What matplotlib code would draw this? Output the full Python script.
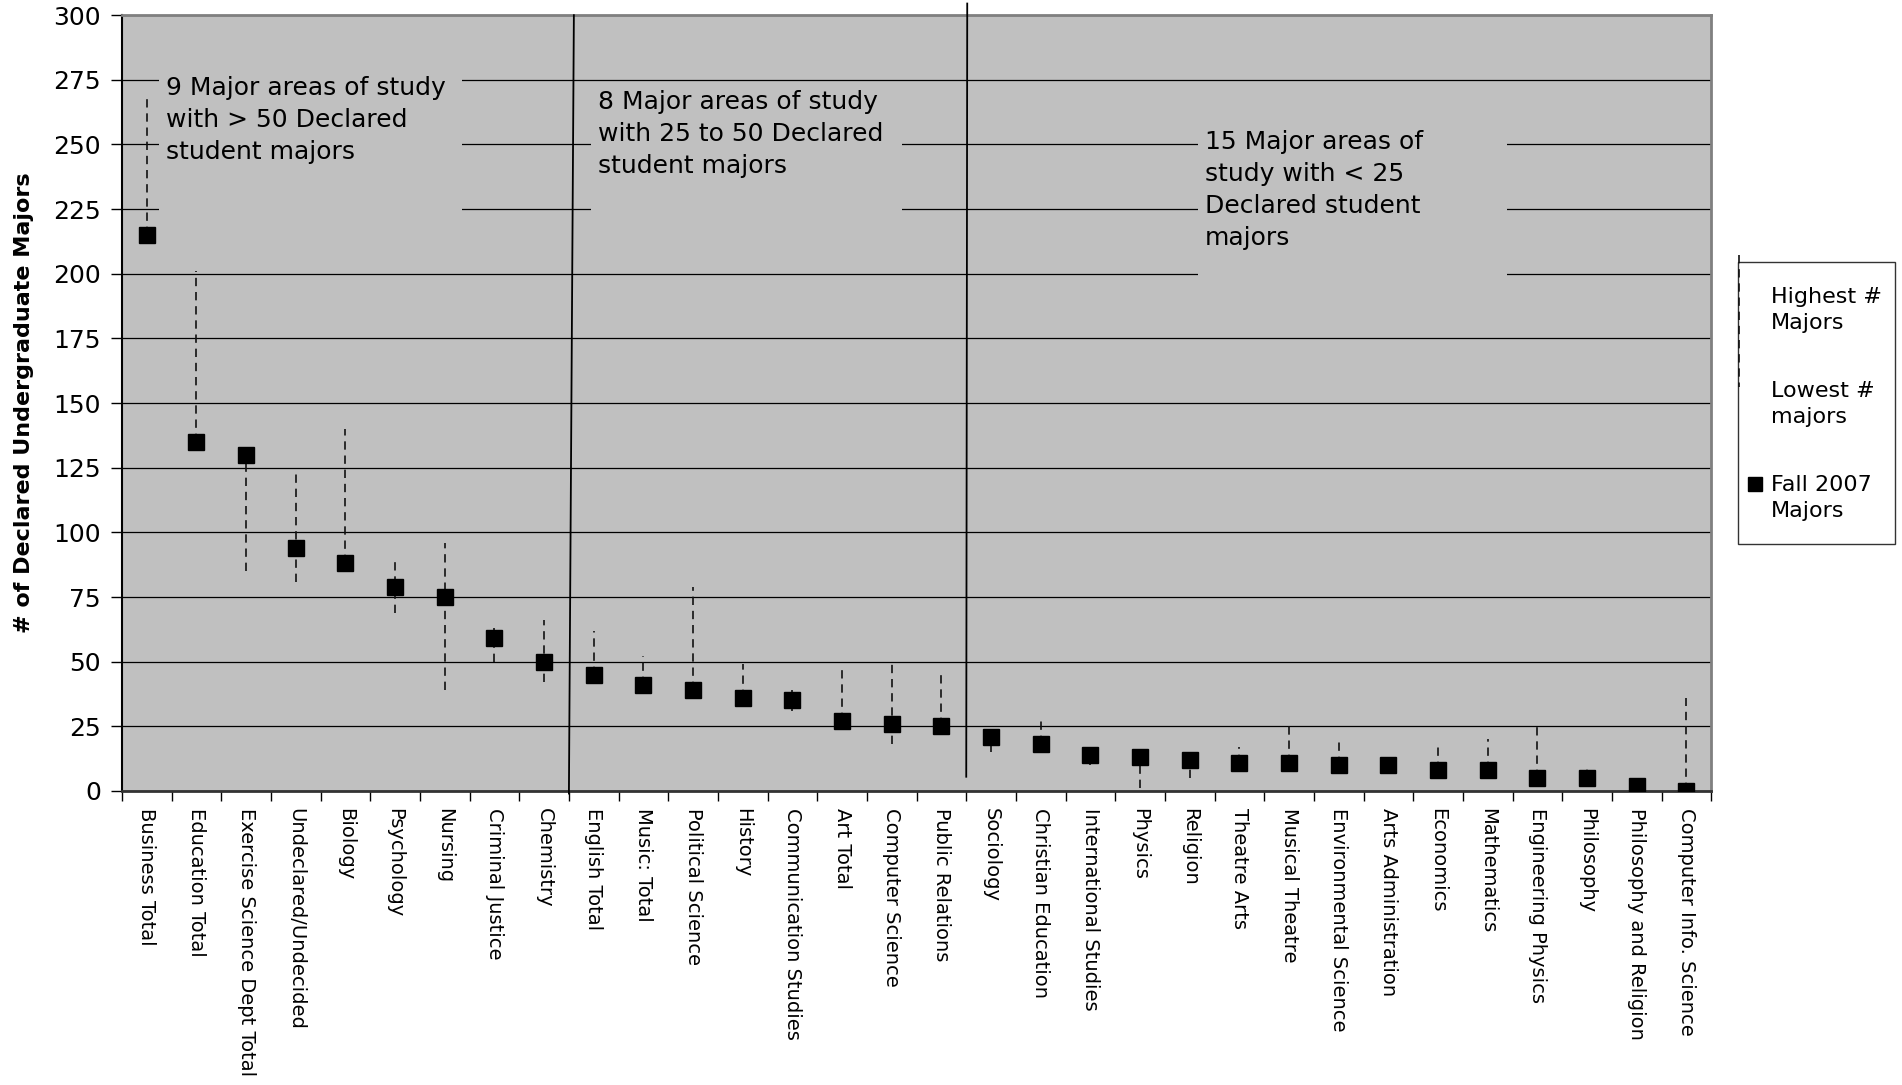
import matplotlib
matplotlib.use("Agg")
import matplotlib.pyplot as plt
from matplotlib.lines import Line2D
from matplotlib.patches import Rectangle
import numpy as np

# majors ranked by Fall 2007 count
majors = [
    "Business Total", "Education Total", "Exercise Science Dept Total",
    "Undeclared/Undecided", "Biology", "Psychology", "Nursing",
    "Criminal Justice", "Chemistry", "English Total", "Music: Total",
    "Political Science", "History", "Communication Studies", "Art Total",
    "Computer Science", "Public Relations", "Sociology", "Christian Education",
    "International Studies", "Physics", "Religion", "Theatre Arts",
    "Musical Theatre", "Environmental Science", "Arts Administration",
    "Economics", "Mathematics", "Engineering Physics", "Philosophy",
    "Philosophy and Religion", "Computer Info. Science",
]
fall_2007 = [215, 135, 130, 94, 88, 79, 75, 59, 50, 45, 41, 39, 36, 35, 27, 26,
             25, 21, 18, 14, 13, 12, 11, 11, 10, 10, 8, 8, 5, 5, 2, 0]
highest = [269, 201, 130, 124, 140, 90, 96, 63, 66, 62, 52, 79, 49, 39, 47, 51,
           45, 24, 28, 14, 13, 12, 17, 27, 20, 10, 18, 20, 25, 10, 2, 36]
lowest = [215, 135, 85, 81, 88, 69, 39, 50, 42, 45, 41, 39, 36, 31, 27, 18,
          25, 15, 18, 10, 1, 5, 11, 11, 10, 10, 8, 8, 5, 5, 2, 0]

group_notes = [
    "9 Major areas of study\nwith > 50 Declared\nstudent majors",
    "8 Major areas of study\nwith 25 to 50 Declared\nstudent majors",
    "15 Major areas of\nstudy with < 25\nDeclared student\nmajors",
]

BG = "#c0c0c0"
DASH = (0, (5, 3.5))

fig = plt.figure(figsize=(19.02, 10.85), dpi=100)
ax = fig.add_axes([0.0641, 0.271, 0.8356, 0.715])
ax.set_facecolor(BG)

x = np.arange(len(majors))

ax.set_axisbelow(True)
ax.yaxis.grid(True, color="black", linewidth=0.9)

# high-low lines and the fall 2007 markers
ax.vlines(x, lowest, highest, colors="#111111", linewidth=1.2,
          linestyles=DASH, zorder=3)
ax.plot(x, fall_2007, "s", color="black", markersize=11.5, zorder=4)

# separators between the three groups
ax.plot([8.5, 8.6], [-1, 300], color="black", linewidth=1.3, zorder=3,
        clip_on=False)
ax.plot([16.5, 16.52], [5.5, 304.5], color="black", linewidth=1.3, zorder=3,
        clip_on=False)

# text boxes hide the grid behind them
boxes = [(0.24, 222, 6.35, 277), (8.95, 222, 15.2, 272.5), (21.17, 197, 27.39, 258)]
for x0, y0, x1, y1 in boxes:
    ax.add_patch(Rectangle((x0, y0), x1 - x0, y1 - y0, facecolor=BG,
                           edgecolor="none", zorder=2))

note_pos = [(0.39, 259.4), (9.08, 253.9), (21.31, 232.4)]
for (tx, ty), note in zip(note_pos, group_notes):
    ax.text(tx, ty, note, fontsize=18, va="center", ha="left", zorder=5,
            linespacing=1.42)

ax.set_xlim(-0.5, len(majors) - 0.5)
ax.set_ylim(0, 300)
ax.set_yticks(np.arange(0, 301, 25))
ax.tick_params(axis="y", labelsize=18, length=8, width=1, direction="out",
               pad=7)

ax.set_xticks(x)
ax.set_xticklabels(majors, rotation=270, fontsize=14, va="top", ha="center")
ax.set_xticks(np.arange(-0.5, len(majors)), minor=True)
ax.tick_params(axis="x", which="major", length=0, pad=12)
ax.tick_params(axis="x", which="minor", length=7, width=1, direction="out")

for side in ["top", "right"]:
    ax.spines[side].set_color("#808080")
    ax.spines[side].set_linewidth(2)
ax.spines["left"].set_color("black")
ax.spines["left"].set_linewidth(1.5)
ax.spines["bottom"].set_color("#333333")
ax.spines["bottom"].set_linewidth(2)

fig.text(0.0128, 0.6285, "# of Declared Undergraduate Majors", rotation=90,
         fontsize=16, fontweight="bold", ha="center", va="center")

# legend drawn by hand like the Excel high-low legend
fig.add_artist(Rectangle((0.9137, 0.4983), 0.0826, 0.2605,
                         transform=fig.transFigure, facecolor="white",
                         edgecolor="#333333", linewidth=1))
fig.add_artist(Line2D([0.9143, 0.9143], [0.765, 0.6436],
                      transform=fig.transFigure, color="#111111",
                      linewidth=1.2, linestyle=DASH))
fig.add_artist(Line2D([0.9227], [0.554], transform=fig.transFigure,
                      marker="s", color="black", markersize=10,
                      linestyle="none"))
fig.text(0.931, 0.7143, "Highest #\nMajors", fontsize=16, va="center",
         linespacing=1.38)
fig.text(0.931, 0.6276, "Lowest #\nmajors", fontsize=16, va="center",
         linespacing=1.38)
fig.text(0.931, 0.541, "Fall 2007\nMajors", fontsize=16, va="center",
         linespacing=1.38)

fig.savefig("out.png", dpi=100, facecolor="white")
